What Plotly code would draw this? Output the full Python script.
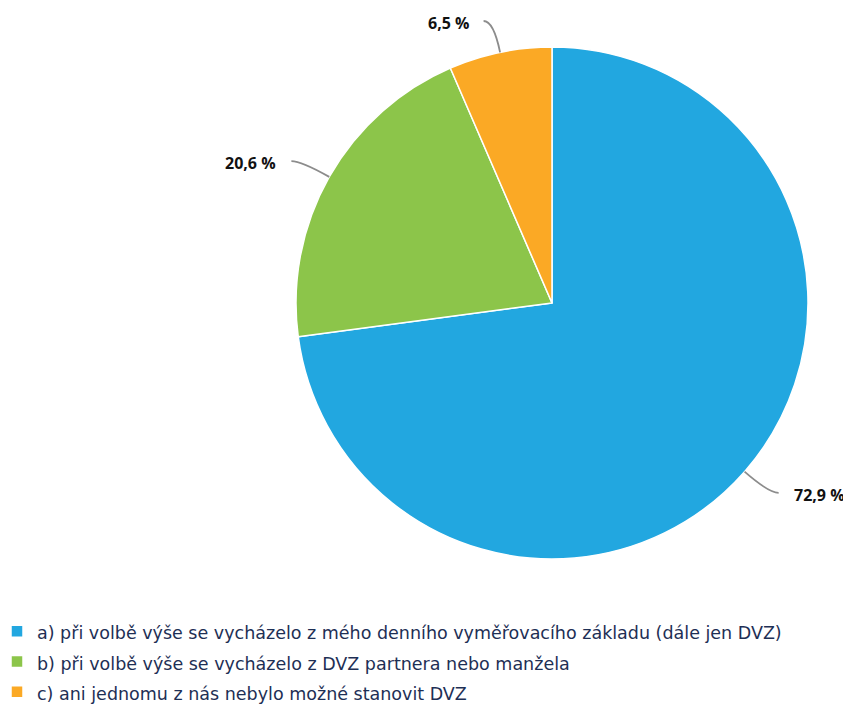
import math
import plotly.graph_objects as go

categories = [
    "a) při volbě výše se vycházelo z mého denního vyměřovacího základu (dále jen DVZ)",
    "b) při volbě výše se vycházelo z DVZ partnera nebo manžela",
    "c) ani jednomu z nás nebylo možné stanovit DVZ",
]
values = [72.9, 20.6, 6.5]
colors = ["#22A7E0", "#8CC54A", "#FBA925"]

OFF = 8  # page body margin
W, H = 851 - OFF, 704 - OFF
cx, cy, R = 552, 303, 256  # pie centre / radius in page pixels

def px(x):
    return (x - OFF) / W

def py(y):
    return 1 - (y - OFF) / H

legend_labels = [f"<span style='font-size:17.5px'>{c}</span>" for c in categories]

fig = go.Figure(go.Pie(
    labels=legend_labels,
    values=values,
    marker=dict(colors=colors, line=dict(color="white", width=1.5)),
    sort=False,
    direction="clockwise",
    rotation=0,
    textinfo="none",
    hoverinfo="label+percent",
    domain=dict(x=[px(cx - R), px(cx + R)], y=[py(cy + R), py(cy - R)]),
))

shapes = []
annotations = []
total = sum(values)
cum = 0
for v in values:
    mid = (cum + v / 2) / total * 2 * math.pi
    cum += v
    s, c = math.sin(mid), -math.cos(mid)
    ex, ey = cx + R * s, cy + R * c
    side = 1 if s >= 0 else -1
    qx, qy = cx + (R + 32) * s, cy + (R + 32) * c
    hx = qx + 10 * side
    path = f"M {px(ex)},{py(ey)} Q {px(qx)},{py(qy)} {px(hx)},{py(qy)}"
    shapes.append(dict(type="path", path=path, xref="paper", yref="paper",
                       line=dict(color="#8c8c8c", width=1.8)))
    label = f"{v:.1f}".replace(".", ",") + " %"
    annotations.append(dict(
        x=px(hx + 13 * side), y=py(qy + 2), xref="paper", yref="paper",
        text=f"<b>{label}</b>", showarrow=False,
        xanchor="left" if side > 0 else "right", yanchor="middle",
        font=dict(family="Open Sans", size=16, color="#111111"),
    ))

fig.update_layout(
    width=W, height=H,
    margin=dict(l=0, r=0, t=0, b=0, autoexpand=False),
    paper_bgcolor="white",
    plot_bgcolor="white",
    shapes=shapes,
    annotations=annotations,
    showlegend=True,
    legend=dict(
        x=px(-3), y=py(611), xanchor="left", yanchor="top",
        font=dict(family="DejaVu Sans", size=21, color="#1E2F55"),
        traceorder="normal",
        itemwidth=30,
    ),
)

fig.write_html("out.html")
